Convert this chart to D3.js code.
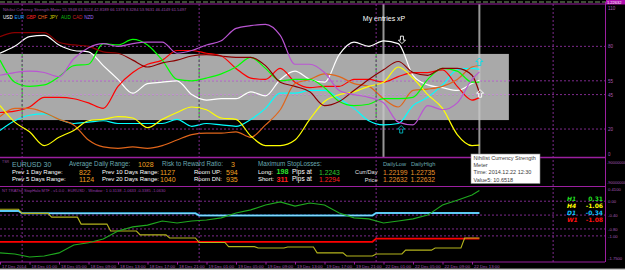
<!DOCTYPE html>
<html>
<head>
<meta charset="utf-8">
<script src="https://cdnjs.cloudflare.com/ajax/libs/d3/7.8.5/d3.min.js"></script>
<style>
  body { margin: 0; background: #000; }
  svg { display: block; font-family: "Liberation Sans", Arial, sans-serif; }
</style>
</head>
<body>
<svg id="chart" width="625" height="270"></svg>
<script>
// ---- data (hours counted in trading time from 17 Dec 21:00) ----
const hours = [0,2,4,6,8,10,12,14,16,18,20,22,24,26,28,30,32,34,36,38,40,42,44,46,48,50,52,54,56,58,60,62,64,65];

const currencies = ["USD","EUR","GBP","CHF","JPY","AUD","CAD","NZD"];
const usd = [75,80,87,88,81,77,76,66,56,46,53,54,55,45,41,42,42,47,44,56,62,56,54,74,83,80,84,82,59,52,50,48,53,55.4];
const eur = [19,26,30,31,27,24,25,26,24,24,24,24,27,22,24,23,22,27,35,46,46,48,48,42,35,26,23,24,37,43,52,63,64,63.3];
const gbp = [32,33,36,43,43,42,39,35,51,61,67,70,77,77,75,73,64,57,56,64,54,50,51,51,56,56,54,58,61,61,63,51,41,42.8];
const chf = [29,35,35,32,27,23,12,7,6,7,6,8,12,16,17,17,18,14,23,34,53,56,60,58,53,51,42,36,48,49,51,56,65,66.1];
const jpy = [37,25,18,8,14,19,26,27,29,28,21,27,32,36,34,28,27,15,8,8,12,27,40,45,47,51,54,65,57,45,35,16,8,8.3];
const aud = [70,54,51,52,58,66,67,82,81,85,81,70,56,55,57,60,65,72,64,55,56,56,50,40,37,38,42,42,43,56,64,62,54,54.0];
const cad = [87,90,90,90,83,81,80,76,75,70,65,68,70,73,74,73,72,72,66,54,51,47,37,40,48,56,63,69,61,59,64,64,59,46.4];
const nzd = [59,61,62,61,58,71,79,82,80,82,83,83,75,77,81,84,93,95,96,88,67,67,61,48,45,43,39,25,23,37,34,39,56,61.5];
const titleValues = [55.3948, 63.3024, 42.8189, 66.1379, 8.3284, 53.9631, 46.4149, 61.5497];

const mainTicks = [110, 80, 55, 45, 20, 0];
const mainLevels = [80, 55, 45, 20];
const band = [26.5, 74.5];
const bandHours = [0, 69];

// lower window (multi timeframe)
const h1 = [-1.49,-1.52,-1.61,-1.58,-1.49,-1.26,-1.20,-1.09,-0.86,-0.74,-0.69,-0.57,-0.63,-0.57,-0.54,-0.48,-0.34,-0.25,-0.11,-0.02,-0.14,-0.05,-0.11,-0.34,-0.48,-0.51,-0.63,-0.57,-0.51,-0.40,-0.11,0.03,0.18,0.31];
const h4Hours = [0,3,7,11,15,19,23,27,31,35,39,43,47,51,55,59,63];
const h4 = [-0.23,-0.35,-0.46,-0.66,-0.86,-0.97,-1.06,-1.19,-1.31,-1.35,-1.32,-1.49,-1.58,-1.52,-1.41,-1.35,-1.06];
const d1Hours = [0,3,27,51];
const d1 = [-0.28,-0.35,-0.41,-0.34];
const w1Hours = [0,51];
const w1 = [-1.17,-1.08];
const lowLevels = [0, -0.4, -0.8, -1];
const lowTickLabels = ["0.4100", "0.00", "-0.40", "-0.80", "-1.00", "-1.7500"];
const lowTicks = [0.41, 0, -0.4, -0.8, -1, -1.75];

const separatorHours = [3, 27, 51, 75];
const vlineHours = [52, 65];
const timeHours = [0,4,8,12,16,20,24,28,32,36,40,44,48,52,56,60,64];
const timeLabels = ["17 Dec 2014","18 Dec 01:00","18 Dec 05:00","18 Dec 09:00","18 Dec 13:00","18 Dec 17:00","18 Dec 21:00",
  "19 Dec 01:00","19 Dec 05:00","19 Dec 09:00","19 Dec 13:00","19 Dec 17:00","19 Dec 21:00",
  "22 Dec 01:00","22 Dec 05:00","22 Dec 09:00","22 Dec 13:00"];

// ---- setup ----
const svg = d3.select("#chart");
svg.append("rect").attr("width", 625).attr("height", 270).attr("fill", "#000");

const x = d3.scaleLinear().domain([0, 82]).range([0, 604.75]);
const yMain = d3.scaleLinear().domain([0, 110]).range([156.6, 5]);
const yLow = d3.scaleLinear().domain([-1.75, 0.41]).range([261.9, 187]);

const frame = "#9b1fa0", grid = "#7d2a8c", axisText = "#a65ab8";
const lineColors = ["#ffffff","#00ffff","#ff0000","#e0651a","#ffff00","#00ff00","#8b0000","#ba55d3"];
const legendColors = ["#ffffff","#1e9fff","#ff2020","#ff6a20","#d8d800","#10c010","#d02020","#9a6af0"];

svg.append("clipPath").attr("id", "clipMain")
  .append("rect").attr("x", 0).attr("y", 4).attr("width", 605).attr("height", 153);

const main = svg.append("g");

// gray zone
main.append("rect")
  .attr("x", x(bandHours[0])).attr("width", x(bandHours[1]) - x(bandHours[0]))
  .attr("y", yMain(band[1])).attr("height", yMain(band[0]) - yMain(band[1]))
  .attr("fill", "#a9a9a9");

// levels
mainLevels.forEach(l => {
  main.append("line").attr("x1", 0).attr("x2", 605).attr("y1", yMain(l)).attr("y2", yMain(l))
    .attr("stroke", grid).attr("stroke-dasharray", "2,2");
  if (l > band[0] && l < band[1]) {
    main.append("line").attr("x1", 0).attr("x2", x(bandHours[1])).attr("y1", yMain(l)).attr("y2", yMain(l))
      .attr("stroke", "#c89ad6").attr("stroke-dasharray", "2,2");
  }
});

// period separators in all windows
separatorHours.forEach(h => {
  svg.append("line").attr("x1", x(h)).attr("x2", x(h)).attr("y1", 4).attr("y2", 262)
    .attr("stroke", grid).attr("stroke-dasharray", "2,2");
  if (h < bandHours[1]) {
    main.append("line").attr("x1", x(h)).attr("x2", x(h)).attr("y1", yMain(band[1])).attr("y2", yMain(band[0]))
      .attr("stroke", "#20c020").attr("stroke-dasharray", "3,2");
  }
});

// vertical objects
vlineHours.forEach(h => {
  main.append("line").attr("x1", x(h)).attr("x2", x(h)).attr("y1", 4).attr("y2", 157)
    .attr("stroke", "#c8c8c8").attr("stroke-width", 2).attr("opacity", 0.75);
});

// currency lines
const series = [usd, eur, gbp, chf, jpy, aud, cad, nzd];
const line = d3.line().x(d => x(d[0])).y(d => yMain(d[1])).curve(d3.curveMonotoneX);
const lg = main.append("g").attr("clip-path", "url(#clipMain)");
series.forEach((s, i) => {
  lg.append("path").datum(hours.map((h, j) => [h, s[j]]))
    .attr("d", line).attr("fill", "none")
    .attr("stroke", lineColors[i]).attr("stroke-width", 1.2);
});

// entry arrows
const entries = [
  {t: 54.5, v: 84.5, dir: "down", c: "#ffffff"},
  {t: 54.4, v: 20, dir: "up", c: "#00b8c0"},
  {t: 65.1, v: 46, dir: "up", c: "#ffffff"},
  {t: 65.0, v: 69, dir: "up", c: "#00e0e8"}
];
entries.forEach(e => {
  const cx = x(e.t), cy = yMain(e.v), s = e.dir === "down" ? 1 : -1;
  const p = `M${cx-1.5},${cy-4*s} h3 v${4*s} h2 l-3.5,${3.5*s} l-3.5,${-3.5*s} h2 z`;
  main.append("path").attr("d", p).attr("fill", "none").attr("stroke", e.c).attr("stroke-width", 0.9);
});
main.append("text").attr("x", x(49.2)).attr("y", yMain(98.4))
  .attr("fill", "#fff").style("font-size", "7px").text("My entries xP");

// main title + legend
svg.append("text").attr("x", 3).attr("y", 10.5).attr("fill", "#9a4aa8").style("font-size", "4.1px")
  .text("Nihilist Currency Strength Meter " + titleValues.map(v => v.toFixed(4)).join(" "));
currencies.forEach((c, i) => {
  svg.append("text").attr("x", 3 + i * 11.6).attr("y", 18.5).attr("fill", legendColors[i])
    .style("font-size", "4.6px").text(c);
});

// right axis of main
const axMain = svg.append("g").attr("transform", "translate(605,0)")
  .call(d3.axisRight(yMain).tickValues(mainTicks).tickSize(0).tickPadding(3));
axMain.select(".domain").remove();
axMain.selectAll("text").attr("fill", axisText).style("font-size", "4.5px")
  .attr("dy", d => d === 110 ? "0.9em" : d === 0 ? "-0.3em" : "0.32em");

// ---- frame lines ----
svg.append("line").attr("x1", 0).attr("x2", 625).attr("y1", 2).attr("y2", 2)
  .attr("stroke", "#7a9a6a").attr("stroke-dasharray", "5,2");
svg.append("line").attr("x1", 0).attr("x2", 605).attr("y1", 4).attr("y2", 4).attr("stroke", frame);
svg.append("line").attr("x1", 0).attr("x2", 605).attr("y1", 157.5).attr("y2", 157.5).attr("stroke", frame).attr("stroke-width", 1.6);
svg.append("line").attr("x1", 0).attr("x2", 605).attr("y1", 186.5).attr("y2", 186.5).attr("stroke", frame);
svg.append("line").attr("x1", 0).attr("x2", 605).attr("y1", 262).attr("y2", 262).attr("stroke", frame);
svg.append("line").attr("x1", 605.5).attr("x2", 605.5).attr("y1", 2).attr("y2", 262).attr("stroke", frame);
svg.append("rect").attr("x", 606).attr("y", 0).attr("width", 19).attr("height", 4.5).attr("fill", "#b010b0");
svg.append("text").attr("x", 607).attr("y", 3.8).attr("fill", "#fff").style("font-size", "4px").text("1.22632");

// ---- info panel ----
const teal = "#6aa8b0", orange = "#f0a020", white = "#ffffff";
const info = [
  ["TSR", 2, 163, "#8a4a98", 3.6, 400],
  ["EURUSD 30", 12, 167, teal, 7, 400],
  ["Average Daily Range:", 69, 166, teal, 6.3, 400],
  ["1028", 138, 166.5, orange, 7, 400],
  ["Risk to Reward Ratio:", 162, 166, teal, 6.3, 400],
  ["3", 231, 166.5, orange, 7, 400],
  ["Maximum StopLosses:", 258, 166, teal, 6.3, 400],
  ["Prev 1 Day Range:", 12, 174.3, white, 6, 400],
  ["822", 79, 174.6, orange, 7, 400],
  ["Prev 10 Days Range:", 102, 174.3, white, 6, 400],
  ["1127", 160, 174.6, orange, 7, 400],
  ["Room UP:", 194, 174.3, white, 6, 400],
  ["594", 226, 174.6, orange, 7, 400],
  ["Long:", 258, 174.3, white, 6, 400],
  ["198", 276.5, 174.2, "#2ee02e", 7.2, 700],
  ["Pips at", 292, 174.3, white, 6.5, 400],
  ["1.2243", 319, 175, "#2ecc2e", 6.8, 400],
  ["Prev 5 Days Range:", 12, 181.2, white, 6, 400],
  ["1124", 79, 181.6, orange, 7, 400],
  ["Prev 20 Days Range:", 102, 181.2, white, 6, 400],
  ["1040", 160, 181.6, orange, 7, 400],
  ["Room DN:", 194, 181.2, white, 6, 400],
  ["935", 226, 181.6, orange, 7, 400],
  ["Short:", 258, 181.2, white, 6, 400],
  ["311", 276.5, 181.8, "#ff2020", 7.2, 700],
  ["Pips at", 292, 181.2, white, 6.5, 400],
  ["1.2294", 319, 182, "#ff2020", 6.8, 400],
  ["DailyLow", 383, 166, teal, 5.7, 400],
  ["DailyHigh", 411, 166, teal, 5.7, 400],
  ["1.22199", 383, 175, "#e8922a", 6.8, 400],
  ["1.22735", 410.5, 175, "#e8922a", 6.8, 400],
  ["1.22632", 383, 182.4, "#e8922a", 6.8, 400],
  ["1.22632", 410.5, 182.4, "#e8922a", 6.8, 400]
];
info.forEach(d => {
  svg.append("text").attr("x", d[1]).attr("y", d[2]).attr("fill", d[3])
    .style("font-size", d[4] + "px").style("font-weight", d[5]).text(d[0]);
});
[["Curr/Day", 173.5], ["Price", 182]].forEach(d => {
  svg.append("text").attr("x", 377.5).attr("y", d[1]).attr("text-anchor", "end")
    .attr("fill", "#e0e0e0").style("font-size", "5.6px").text(d[0]);
});
[["-90000000", 163.5], ["-90000000", 184]].forEach(d => {
  svg.append("text").attr("x", 607).attr("y", d[1]).attr("fill", axisText).style("font-size", "4px").text(d[0]);
});

// ---- lower window ----
const low = svg.append("g");
lowLevels.forEach(l => {
  low.append("line").attr("x1", 0).attr("x2", 605).attr("y1", yLow(l)).attr("y2", yLow(l))
    .attr("stroke", grid).attr("stroke-dasharray", "2,2");
});

function stepPoints(hs, vals) {
  const pts = [];
  hs.forEach((h, i) => {
    const end = i < hs.length - 1 ? hs[i + 1] - 0.5 : 65;
    pts.push([h, vals[i]], [end, vals[i]]);
  });
  return pts;
}
const lowLine = d3.line().x(d => x(d[0])).y(d => yLow(d[1]));
low.append("path").datum(stepPoints(w1Hours, w1)).attr("d", lowLine)
  .attr("fill", "none").attr("stroke", "#ff0000").attr("stroke-width", 1.8);
low.append("path").datum(stepPoints(d1Hours, d1)).attr("d", lowLine)
  .attr("fill", "none").attr("stroke", "#30b8f0").attr("stroke-width", 2);
low.append("path").datum(stepPoints(d1Hours, d1)).attr("d", lowLine)
  .attr("fill", "none").attr("stroke", "#c8f4ff").attr("stroke-width", 0.6);
low.append("path").datum(stepPoints(h4Hours, h4)).attr("d", lowLine)
  .attr("fill", "none").attr("stroke", "#b4b41c").attr("stroke-width", 1.1);
low.append("path").datum(hours.map((h, j) => [h, h1[j]])).attr("d", lowLine)
  .attr("fill", "none").attr("stroke", "#1fa81f").attr("stroke-width", 1.1);

svg.append("text").attr("x", 2).attr("y", 192).attr("fill", "#9a3aa8").style("font-size", "4px")
  .text("NT TRAThe StopHalo MTF - v1.0.0 - EURUSD - Window : 1    0.3138 -1.0633 -0.3385 -1.0630");

// lower legend
const lowNames = ["H1","H4","D1","W1"];
const lowVals = [h1[h1.length-1], h4[h4.length-1], d1[d1.length-1], w1[w1.length-1]];
const lowColors = ["#22dd22","#ffff00","#10c0ff","#ff1010"];
lowNames.forEach((n, i) => {
  const yy = 200.5 + i * 7.3;
  svg.append("text").attr("x", 567).attr("y", yy).attr("fill", lowColors[i])
    .style("font-family", "DejaVu Sans").style("font-size", "6px").style("font-weight", "bold")
    .style("font-style", "italic").text(n);
  svg.append("text").attr("x", 603).attr("y", yy).attr("text-anchor", "end").attr("fill", lowColors[i])
    .style("font-family", "DejaVu Sans").style("font-size", "6px").style("font-weight", "bold")
    .text(lowVals[i].toFixed(2));
});

// lower right axis
const axLow = svg.append("g").attr("transform", "translate(605,0)")
  .call(d3.axisRight(yLow).tickValues(lowTicks).tickSize(0).tickPadding(3)
    .tickFormat((d, i) => lowTickLabels[i]));
axLow.select(".domain").remove();
axLow.selectAll("text").attr("fill", axisText).style("font-size", "4.2px")
  .attr("dy", (d, i) => i === 0 ? "0.9em" : i === lowTicks.length - 1 ? "-0.5em" : "0.32em");

// time axis
const axTime = svg.append("g").attr("transform", "translate(0,262)")
  .call(d3.axisBottom(x).tickValues(timeHours).tickSize(2.5).tickPadding(0)
    .tickFormat((d, i) => timeLabels[i]));
axTime.select(".domain").remove();
axTime.selectAll("line").attr("stroke", frame);
axTime.selectAll("text").attr("fill", axisText).style("font-size", "4.3px")
  .attr("text-anchor", "start").attr("dx", "1.5").attr("y", 2).attr("dy", "0.95em");
svg.append("rect").attr("x", 0).attr("y", 268.6).attr("width", 625).attr("height", 1.4).attr("fill", "#c8c8c8");

// tooltip
const tip = svg.append("g");
tip.append("rect").attr("x", 471).attr("y", 154).attr("width", 69).attr("height", 29.5)
  .attr("fill", "#fff").attr("stroke", "#8a8a8a").attr("stroke-width", 0.6);
["Nihilist Currency Strength", "Meter", "Time: 2014.12.22 12:30", "Value5: 10.6518"].forEach((t, i) => {
  tip.append("text").attr("x", 473.5).attr("y", 160 + i * 7.2).attr("fill", "#3a3a3a")
    .style("font-size", "5.5px").text(t);
});
</script>
</body>
</html>
